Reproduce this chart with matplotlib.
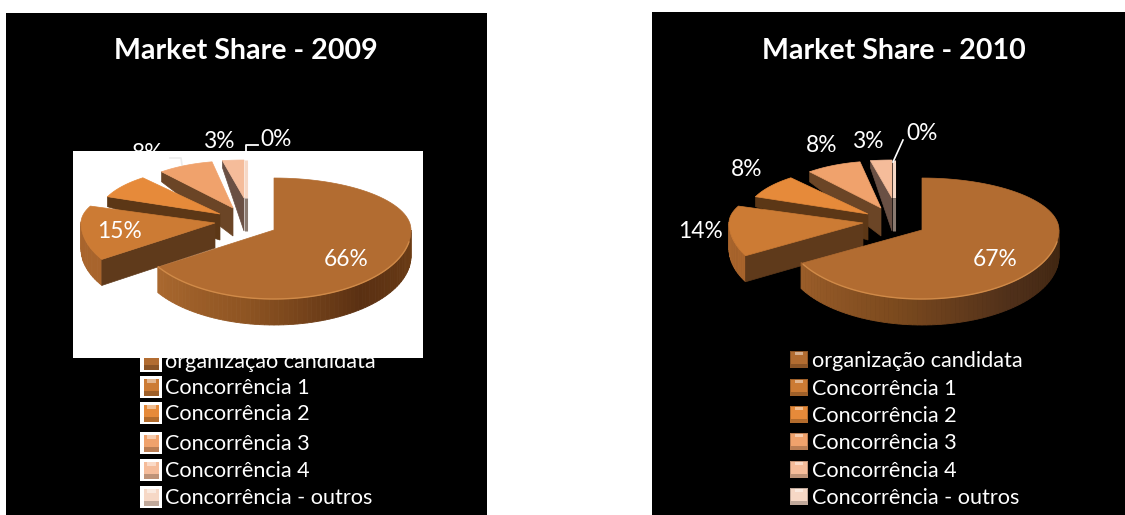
import numpy as np
import matplotlib
matplotlib.use("Agg")
import matplotlib.pyplot as plt
from matplotlib.patches import Polygon, Rectangle

plt.rcParams['font.family'] = ['Lato', 'DejaVu Sans']

W, H = 1125, 515

# Market share per competitor, in percent
categories = ["organização candidata", "Concorrência 1", "Concorrência 2",
              "Concorrência 3", "Concorrência 4", "Concorrência - outros"]
share_2009 = [66, 15, 8, 8, 3, 0]
share_2010 = [67, 14, 8, 8, 3, 0]
years = ["2009", "2010"]

# Shading of each slice
top_colors = ["#b26c31", "#cc7b34", "#e68a3a", "#f0a26c", "#f5bc9a", "#f6d8c6"]
cut_colors = ["#6a3f1a", "#5f3a1b", "#5c3716", "#6b4526", "#6a5044", "#8a7a70"]

# Per-slice placement relative to the pie centre: offset x, offset y, rx, ry back, ry front
slice_geom = [
    (0, 0, 137, 52, 69),
    (-59, -7, 134, 46, 68),
    (-54, -16, 121, 47, 60),
    (-41, -22, 112, 47, 60),
    (-30, -32, 115, 38, 60),
    (-28, -32, 115, 38, 60),
]
depth_rim = [26, 26, 10, 10, 7, 7]
depth_apex = [26, 25, 26, 28, 33, 33]


def rim(theta, g):
    """Point on a slice's top rim; theta is clockwise from 12 o'clock, in degrees."""
    dx, dy, rx, ry_b, ry_f = g
    t = np.radians(theta)
    c = np.cos(t)
    ry = np.where(c > 0, ry_b, ry_f)
    return dx + rx * np.sin(t), dy - ry * c


def wall_shade(theta, year_idx):
    # Light on the left of the wall, dark to the right, brighter overall in 2009
    f = np.clip((241 - theta) / 151, 0, 1)
    if year_idx == 0:
        stops = ["#ac6a30", "#8e5422", "#5a3012", "#6e3e16"]
    else:
        stops = ["#9c5e2a", "#7c4a1e", "#50301a", "#3e2510"]
    pos = f * (len(stops) - 1)
    i = min(int(pos), len(stops) - 2)
    a = np.array(matplotlib.colors.to_rgb(stops[i]))
    b = np.array(matplotlib.colors.to_rgb(stops[i + 1]))
    return a + (b - a) * (pos - i)


def draw_pie(ax, cx, cy, values, year_idx):
    starts = np.concatenate([[0], np.cumsum(values)[:-1]]) * 3.6
    sweeps = np.array(values) * 3.6
    # Back slices first so nearer ones overlap them
    for i in [5, 4, 3, 2, 1, 0]:
        g = slice_geom[i]
        a0, a1 = starts[i], starts[i] + sweeps[i]
        if sweeps[i] == 0:
            x, y = rim(a0, g)
            ax.plot([cx + g[0], cx + x], [cy + g[1], cy + y],
                    color=top_colors[i], lw=2.2, zorder=5, solid_capstyle="butt")
            ax.plot([cx + g[0]] * 2, [cy + g[1], cy + g[1] + depth_apex[i]],
                    color=cut_colors[i], lw=2.2, zorder=5, solid_capstyle="butt")
            continue
        z = 5 + (5 - i)
        # Outer wall, drawn in narrow strips for the shading
        th = np.arange(a0, a1 + 1, 2.0)
        for t0, t1 in zip(th[:-1], th[1:]):
            if 90 <= t0 <= 270:
                x0, y0 = rim(t0, g)
                x1, y1 = rim(t1, g)
                d = depth_rim[i]
                col = wall_shade(t0, year_idx)
                if i == 1:
                    col = np.array(matplotlib.colors.to_rgb("#a8642c"))
                ax.add_patch(Polygon([(cx + x0, cy + y0), (cx + x1, cy + y1),
                                      (cx + x1, cy + y1 + d), (cx + x0, cy + y0 + d)],
                                     fc=col, ec=col, lw=0.6, zorder=z))
        # Cut face along the first edge of the smaller slices
        if i > 0:
            x0, y0 = rim(a0, g)
            ax.add_patch(Polygon([(cx + g[0], cy + g[1]), (cx + x0, cy + y0),
                                  (cx + x0, cy + y0 + depth_rim[i]),
                                  (cx + g[0], cy + g[1] + depth_apex[i])],
                                 fc=cut_colors[i], ec=cut_colors[i], lw=0.5, zorder=z))
        # Top face
        th = np.linspace(a0, a1, 90)
        xs, ys = rim(th, g)
        pts = [(cx + g[0], cy + g[1])] + list(zip(cx + xs, cy + ys))
        ax.add_patch(Polygon(pts, fc=top_colors[i], ec=top_colors[i], lw=0.5, zorder=z + 0.5))
        # Bevel highlight along the front rim of the largest slice
        if i == 0:
            th = np.linspace(max(a0, 100), min(a1, 240), 60)
            xs, ys = rim(th, g)
            ax.plot(cx + xs, cy + ys, color="#d08a48", lw=1.0, zorder=z + 0.6)


def draw_swatch(ax, x, y, i, year_idx):
    base = matplotlib.colors.to_rgb(top_colors[i])
    dark = tuple(0.78 * c for c in base)
    light = tuple(min(1, c * 0.55 + 0.45) for c in base)
    if year_idx == 0:
        ax.add_patch(Rectangle((x - 3, y - 11), 22, 22, fc="white", ec="none", zorder=3))
        ax.add_patch(Rectangle((x + 1, y - 8), 15, 17, fc=base, ec="none", zorder=3.1))
        ax.add_patch(Rectangle((x + 4, y - 8), 9, 4, fc=light, ec="none", zorder=3.2))
        ax.add_patch(Rectangle((x + 1, y + 4), 15, 5, fc=dark, ec="none", zorder=3.2))
    else:
        ax.add_patch(Rectangle((x, y - 9), 18, 17, fc=dark, ec="none", zorder=3.1))
        ax.add_patch(Rectangle((x + 1, y - 8), 16, 12, fc=base, ec="none", zorder=3.2))
        ax.add_patch(Rectangle((x + 5, y - 8), 8, 3, fc=light, ec="none", zorder=3.3))


fig = plt.figure(figsize=(W / 100, H / 100), dpi=100, facecolor="white")
ax = fig.add_axes([0, 0, 1, 1])
ax.set_xlim(0, W)
ax.set_ylim(H, 0)
ax.axis("off")

# Black chart panels
ax.add_patch(Rectangle((6, 13), 481, 502, fc="black", ec="none", zorder=1))
ax.add_patch(Rectangle((652, 12), 473, 503, fc="black", ec="none", zorder=1))

title_fs = 20.6
label_fs = 16.4
legend_fs = 15.6

for idx, (year, x_mid) in enumerate(zip(years, [246, 894])):
    ax.text(x_mid, 51, f"Market Share - {year}", color="white", fontsize=title_fs,
            fontweight="bold", ha="center", va="center", zorder=2)

# Legend rows
legend_y_2009 = [361, 387, 413, 443, 470, 497]
legend_y_2010 = [360, 388, 415, 442, 470, 497]
for name, i, y in zip(categories, range(6), legend_y_2009):
    ax.text(165, y + 1, name, color="white", fontsize=legend_fs, va="center", zorder=2)
    draw_swatch(ax, 143, y, i, 0)
for name, i, y in zip(categories, range(6), legend_y_2010):
    ax.text(812, y + 1, name, color="white", fontsize=legend_fs, va="center", zorder=2)
    draw_swatch(ax, 790, y, i, 1)

# 2009 value labels sitting above the panel; the white plot area covers some of them
label_pos_2009 = [(346, 259), (119, 232), (107, 197), (148, 154), (220, 142), (276, 139)]
label_pos_2010 = [(995, 259), (700, 232), (747, 170), (822, 146), (869, 141), (922, 134)]
for v, (x, y) in zip(share_2009[2:], label_pos_2009[2:]):
    ax.text(x, y, f"{v}%", color="white", fontsize=label_fs, ha="center", va="center", zorder=2)
ax.plot([258, 246, 246], [145, 145, 162], color="white", lw=1.3, zorder=2)

# White plot area of the 2009 chart
ax.add_patch(Rectangle((73, 151), 350, 207, fc="white", ec="none", zorder=4))
ax.plot([170, 181, 182], [158, 158, 165], color="#ececec", lw=1.2, zorder=4.5)

draw_pie(ax, 274, 230, share_2009, 0)
draw_pie(ax, 922, 230, share_2010, 1)

for v, (x, y) in zip(share_2009[:2], label_pos_2009[:2]):
    ax.text(x, y, f"{v}%", color="white", fontsize=label_fs, ha="center", va="center", zorder=20)
for v, (x, y) in zip(share_2010, label_pos_2010):
    ax.text(x, y, f"{v}%", color="white", fontsize=label_fs, ha="center", va="center", zorder=20)
ax.plot([893, 903], [162, 140], color="white", lw=1.2, zorder=20)

fig.savefig("out.png", dpi=100, facecolor="white")
